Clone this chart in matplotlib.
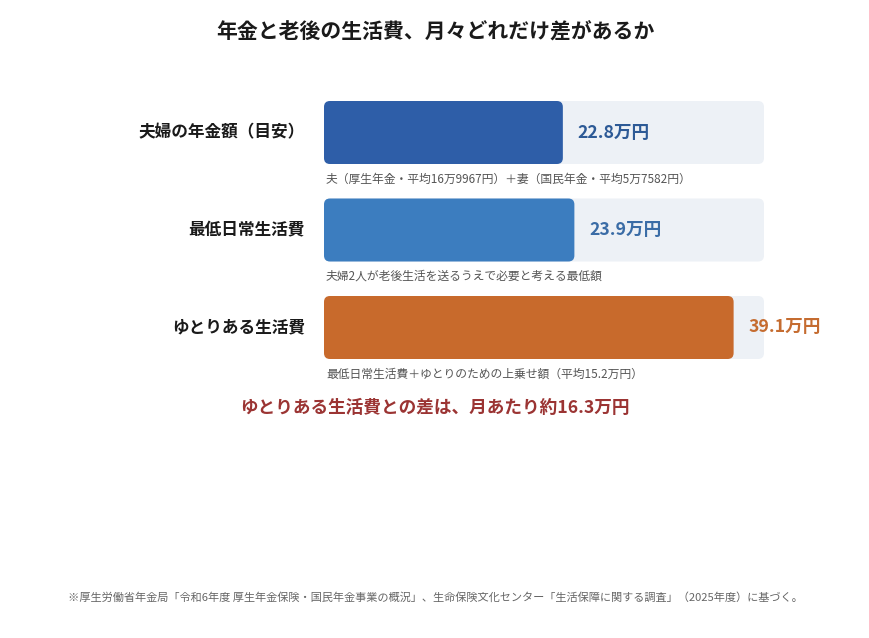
import matplotlib
matplotlib.use("Agg")
import matplotlib.pyplot as plt
from matplotlib.patches import FancyBboxPatch

plt.rcParams['font.family'] = ['Noto Sans CJK JP', 'DejaVu Sans']

categories = ["夫婦の年金額（目安）", "最低日常生活費", "ゆとりある生活費"]
values = [22.8, 23.9, 39.1]
value_labels = ["22.8万円", "23.9万円", "39.1万円"]
notes = ["夫（厚生年金・平均16万9967円）＋妻（国民年金・平均5万7582円）",
         "夫婦2人が老後生活を送るうえで必要と考える最低額",
         "最低日常生活費＋ゆとりのための上乗せ額（平均15.2万円）"]
colors = ["#2e5ea8", "#3c7dbf", "#c86a2c"]
label_colors = ["#2d5a96", "#3a6ca6", "#c56c30"]
track_max = 42.0
title = "年金と老後の生活費、月々どれだけ差があるか"
summary = "ゆとりある生活費との差は、月あたり約16.3万円"
footnote = "※厚生労働省年金局「令和6年度 厚生年金保険・国民年金事業の概況」、生命保険文化センター「生活保障に関する調査」（2025年度）に基づく。"

W, H = 870, 638
fig = plt.figure(figsize=(W / 100, H / 100), dpi=100)
fig.patch.set_facecolor("white")

ax_left, ax_w = 324, 440
ax_top, ax_h = 83.75, 292.5
ax = fig.add_axes([ax_left / W, 1 - (ax_top + ax_h) / H, ax_w / W, ax_h / H])
ax.set_xlim(0, track_max)
ax.set_ylim(2.5, -0.5)
ax.axis("off")

x_per_px = track_max / ax_w
y_per_px = 3.0 / ax_h
aspect = y_per_px / x_per_px
bar_h = 63 * y_per_px
r = 6 * x_per_px

for i, (cat, v, lab, note, c, lc) in enumerate(zip(categories, values, value_labels, notes, colors, label_colors)):
    track = FancyBboxPatch((0, i - bar_h / 2), track_max, bar_h,
                           boxstyle=f"round,pad=0,rounding_size={r}",
                           mutation_aspect=aspect, fc="#edf1f6", ec="none")
    ax.add_patch(track)
    bar = FancyBboxPatch((0, i - bar_h / 2), v, bar_h,
                         boxstyle=f"round,pad=0,rounding_size={r}",
                         mutation_aspect=aspect, fc=c, ec="none")
    ax.add_patch(bar)
    ax.text(v + 15 * x_per_px, i, lab, ha="left", va="center",
            fontsize=12.7, fontweight="bold", color=lc)
    ax.text(-19 * x_per_px, i, cat, ha="right", va="center",
            fontsize=12, fontweight="bold", color="#1a1a1a", clip_on=False)
    ax.text(2 * x_per_px, i + 46.5 * y_per_px, note, ha="left", va="center",
            fontsize=8.5, color="#555555")

fig.text(0.5, 1 - 32 / H, title, ha="center", va="center",
         fontsize=15, fontweight="bold", color="#1a1a1a")
fig.text(0.5, 1 - 408 / H, summary, ha="center", va="center",
         fontsize=12.7, fontweight="bold", color="#9b3433")
fig.text(68 / W, 1 - 597 / H, footnote, ha="left", va="center",
         fontsize=8.05, color="#666666")

fig.savefig("out.png", dpi=100, facecolor="white")
